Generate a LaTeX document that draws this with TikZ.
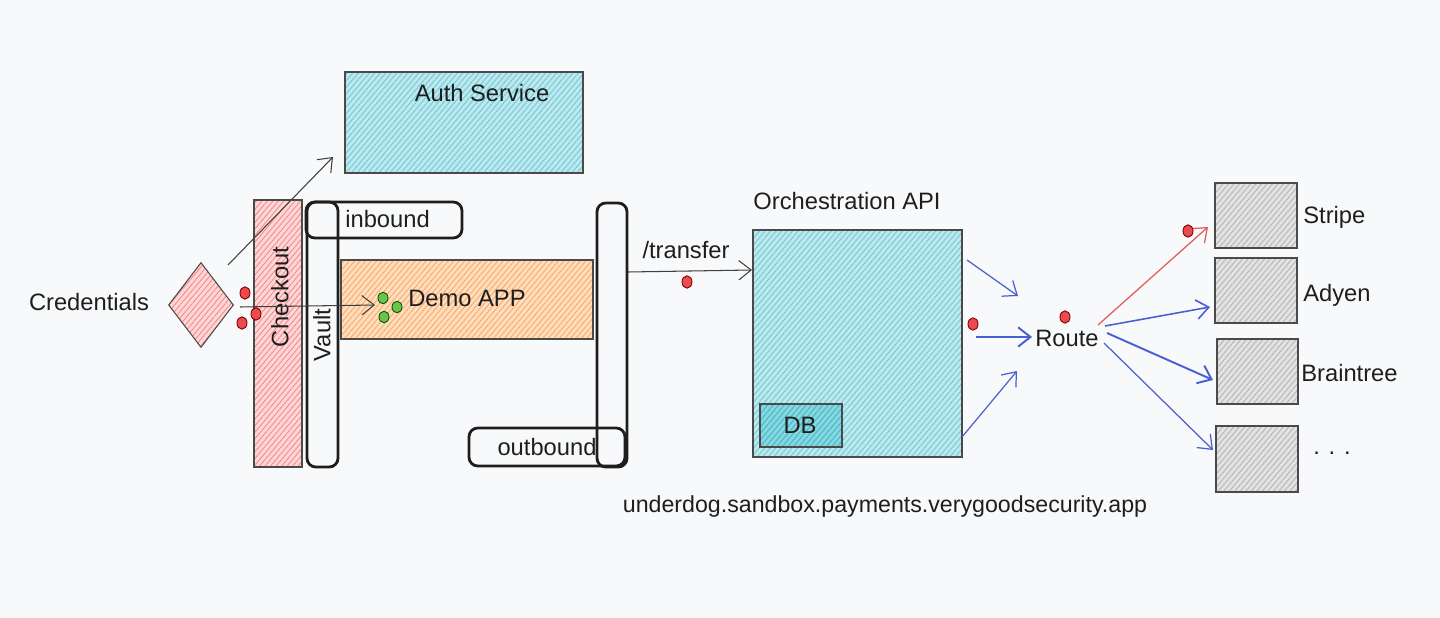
\documentclass[tikz,border=0pt]{standalone}
\usepackage{fontspec}
\setmainfont{Liberation Sans}
\usetikzlibrary{arrows.meta,patterns.meta,shapes.geometric,fit}
\definecolor{bg}{HTML}{F8F9FA}
\definecolor{ink}{HTML}{1E1E1E}
\definecolor{outl}{HTML}{4A4A4A}
\definecolor{cyanfill}{HTML}{BEE8EE}
\definecolor{cyanline}{HTML}{6ACBD6}
\definecolor{pinkfill}{HTML}{FFD6D6}
\definecolor{pinkline}{HTML}{F28C8C}
\definecolor{orangefill}{HTML}{FFDDBD}
\definecolor{orangeline}{HTML}{F7AA6A}
\definecolor{grayfill}{HTML}{E2E2E2}
\definecolor{grayline}{HTML}{B4B4B4}
\definecolor{dbfill}{HTML}{88D6DF}
\definecolor{dbline}{HTML}{3AB8C8}
\definecolor{reddot}{HTML}{EB4A4E}
\definecolor{greendot}{HTML}{6CC24A}
\definecolor{bluearr}{HTML}{4A5FD0}
\definecolor{redarr}{HTML}{E05A5A}
\begin{document}
\begin{tikzpicture}[x=0.02cm,y=-0.02cm,
  font=\fontsize{13.5}{16}\selectfont, text=ink,
  hatchbox/.style n args={2}{draw=outl, line width=0.6pt, inner sep=0pt,
    preaction={fill=#1},
    preaction={pattern={Lines[angle=50,distance=2.4pt,line width=0.5pt]}, pattern color=#2}},
  cyanbox/.style={hatchbox={cyanfill}{cyanline}},
  pinkbox/.style={hatchbox={pinkfill}{pinkline}},
  orangebox/.style={hatchbox={orangefill}{orangeline}},
  graybox/.style={hatchbox={grayfill}{grayline}},
  dbbox/.style={hatchbox={dbfill}{dbline}},
  bar/.style={draw=ink, line width=1.6pt, rounded corners=5pt, inner sep=0pt},
  rdot/.style={ellipse, draw=red!50!black, line width=0.5pt, fill=reddot, minimum width=0.2cm, minimum height=0.25cm, inner sep=0pt},
  gdot/.style={ellipse, draw=green!35!black, line width=0.5pt, fill=greendot, minimum width=0.2cm, minimum height=0.23cm, inner sep=0pt},
  karrow/.style={draw=ink!85, line width=0.6pt, -{Straight Barb[length=7pt,width=11pt]}},
  barrow/.style={draw=bluearr, line width=0.7pt, -{Straight Barb[length=7pt,width=11pt]}},
  rarrow/.style={draw=redarr, line width=0.7pt, -{Straight Barb[length=7pt,width=11pt]}},
  lbl/.style={inner sep=0pt}
]
\fill[bg] (0,0) rectangle (1440,618);
\useasboundingbox (0,0) rectangle (1440,618);

% Auth service
\node[cyanbox, fit={(345,72)(583,173)}] (auth) {};
\node[lbl] (authT) at (482,93) {Auth Service};

% Credentials + diamond
\node[lbl] (cred) at (89,302) {Credentials};
\node[diamond, hatchbox={pinkfill}{pinkline}, minimum width=1.3cm, minimum height=1.7cm] (dia) at (201,305) {};

% Checkout
\node[pinkbox, fit={(254,200)(302,467)}] (checkout) {};
\node[lbl, rotate=90] (checkoutT) at (280,297) {Checkout};

% inbound + Vault
\node[bar, fit={(306,202)(462,238)}] (inbound) {};
\node[lbl, anchor=west] (inboundT) at (345,219) {inbound};
\node[bar, fit={(307,202)(338,467)}] (vault) {};
\node[lbl, rotate=90] (vaultT) at (322,335) {Vault};

% Demo APP
\node[orangebox, fit={(341,260)(593,339)}] (demo) {};
\node[lbl] (demoT) at (467,298) {Demo APP};

% outbound + right bar
\node[bar, fit={(469,428)(625,466)}] (outbound) {};
\node[lbl] (outboundT) at (547,447) {outbound};
\node[bar, fit={(597,203)(627,467)}] (rbar) {};

% Orchestration API
\node[lbl] (orchT) at (847,201) {Orchestration API};
\node[cyanbox, fit={(753,230)(962,457)}] (orch) {};
\node[dbbox, fit={(760,404)(842,447)}] (db) {};
\node[lbl] (dbT) at (800,425) {DB};

% transfer
\node[lbl] (transferT) at (686,250) {/transfer};

% Route
\node[lbl] (route) at (1067,338) {Route};

% PSP boxes
\node[graybox, fit={(1215,183)(1297,248)}] (stripe) {};
\node[graybox, fit={(1215,258)(1297,323)}] (adyen) {};
\node[graybox, fit={(1217,339)(1298,404)}] (braintree) {};
\node[graybox, fit={(1216,426)(1298,492)}] (more) {};
\node[lbl, anchor=west] (stripeT) at (1303,217) {Stripe};
\node[lbl, anchor=west] (adyenT) at (1303,295) {Adyen};
\node[lbl, anchor=west] (braintreeT) at (1301,373) {Braintree};
\node[lbl] (moreT) at (1332,453) {. . .};

% URL
\node[lbl, font=\fontsize{13.2}{16}\selectfont] (url) at (885,507) {underdog.sandbox.payments.verygoodsecurity.app};

% arrow end points
\coordinate (a1s) at (228,265);
\coordinate (a1e) at (333,157);
\coordinate (a2s) at (240,307);
\coordinate (a2e) at (375,305);
\coordinate (tS) at (628,272);
\coordinate (tE) at (752,270);
\coordinate (o1s) at (967,260);
\coordinate (o1e) at (1018,296);
\coordinate (o2s) at (976,337);
\coordinate (o2e) at (1032,337);
\coordinate (o3s) at (962,437);
\coordinate (o3e) at (1017,371);
\coordinate (r1s) at (1098,325);
\coordinate (r1e) at (1208,227);
\coordinate (r2s) at (1105,326);
\coordinate (r2e) at (1210,307);
\coordinate (r3s) at (1107,333);
\coordinate (r3e) at (1213,380);
\coordinate (r4s) at (1104,343);
\coordinate (r4e) at (1213,450);

\draw[karrow] (a1s) -- (a1e);
\draw[karrow] (a2s) -- (a2e);
\draw[karrow] (tS) -- (tE);
\draw[barrow] (o1s) -- (o1e);
\draw[barrow, line width=1.1pt] (o2s) -- (o2e);
\draw[barrow] (o3s) -- (o3e);
\draw[rarrow] (r1s) -- (r1e);
\draw[barrow, line width=0.9pt] (r2s) -- (r2e);
\draw[barrow, line width=1.1pt] (r3s) -- (r3e);
\draw[barrow] (r4s) -- (r4e);

% dots
\node[rdot] (rd1) at (245,293) {};
\node[rdot] (rd2) at (256,314) {};
\node[rdot] (rd3) at (242,323) {};
\node[gdot] (gd1) at (383,298) {};
\node[gdot] (gd2) at (397,307) {};
\node[gdot] (gd3) at (384,317) {};
\node[rdot] (rd4) at (687,282) {};
\node[rdot] (rd5) at (973,324) {};
\node[rdot] (rd6) at (1065,317) {};
\node[rdot] (rd7) at (1188,231) {};
\end{tikzpicture}
\end{document}
